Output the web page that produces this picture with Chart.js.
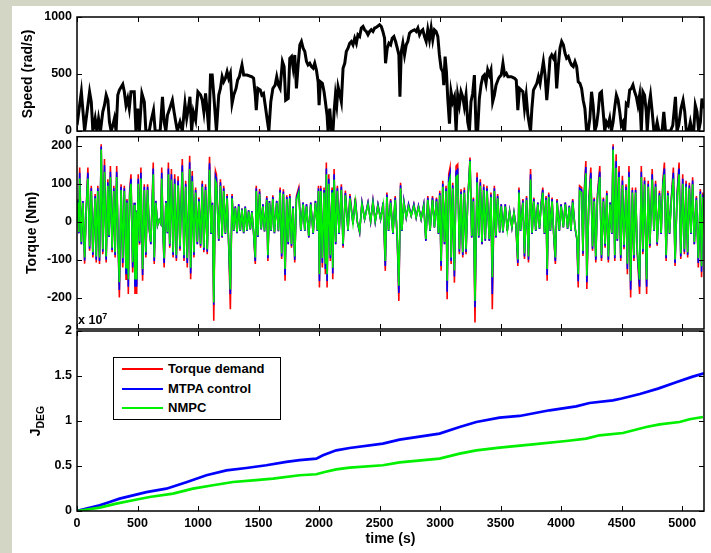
<!DOCTYPE html>
<html>
<head>
<meta charset="utf-8">
<script src="https://cdn.jsdelivr.net/npm/chart.js@4.4.0/dist/chart.umd.min.js"></script>
<style>
body { margin:0; background:#d3d6c5; width:711px; height:553px; overflow:hidden; font-family:'Liberation Sans', Arial, sans-serif; }
#page { position:absolute; left:12px; top:6px; width:699px; height:547px; background:#fff; }
canvas { position:absolute; left:0; }
.lbl { position:absolute; font-weight:bold; color:#000; white-space:nowrap; }
#expo { left:78px; top:311px; font-size:12.5px; }
#expo sup { font-size:9px; vertical-align:5px; }
#jlabel { left:36px; top:421px; font-size:14px; transform:translate(-50%,-50%) rotate(-90deg); }
#jlabel sub { font-size:10.5px; vertical-align:-4px; }
#legend { position:absolute; left:113px; top:357px; width:166px; height:61px; border:1px solid #000; background:#fff; }
#legend .ln { position:absolute; left:8px; width:41px; height:2px; }
#legend .tx { position:absolute; left:54px; font-weight:bold; font-size:13px; line-height:16px; }
</style>
</head>
<body>
<div id="page"></div>
<canvas id="speedChart" width="711" height="150" style="top:0"></canvas>
<canvas id="torqueChart" width="711" height="230" style="top:120px"></canvas>
<canvas id="degChart" width="711" height="253" style="top:300px"></canvas>
<div class="lbl" id="expo">x 10<sup>7</sup></div>
<div class="lbl" id="jlabel">J<sub>DEG</sub></div>
<div id="legend"></div>
<script>
// tick labels
var timeTicks = [0, 500, 1000, 1500, 2000, 2500, 3000, 3500, 4000, 4500, 5000];
var speedTicks = [0, 500, 1000];
var torqueTicks = [-200, -100, 0, 100, 200];
var degTicks = [0, 0.5, 1, 1.5, 2];

// speed (rad/s)
var speedTime = [0,36,63,104,118,131,150,164,178,194,213,227,241,255,268,282,296,309,323,337,350,378,391,405,419,432,446,473,487,501,515,536,556,569,597,610,632,646,687,706,720,734,747,766,788,802,816,829,851,870,892,906,920,933,947,961,980,999,1021,1035,1048,1062,1076,1089,1103,1117,1130,1152,1171,1185,1199,1212,1226,1240,1253,1267,1281,1295,1314,1327,1341,1363,1377,1404,1445,1459,1473,1481,1494,1514,1527,1541,1555,1574,1585,1601,1618,1637,1650,1664,1678,1697,1711,1724,
  1745,1758,1772,1786,1799,1813,1827,1841,1854,1868,1882,1896,1909,1923,1937,1951,1964,1978,1992,2000,2011,2027,2041,2052,2066,2074,2088,2102,2115,2124,2135,2146,2157,2170,2184,2198,2212,2225,2239,2253,2266,2280,2294,2308,2321,2335,2349,2363,2376,2390,2404,2418,2431,2445,2459,2472,2500,2514,2527,2541,2549,2563,2577,2591,2604,2618,2632,2646,2659,2668,2679,2692,2706,2720,2733,2747,2761,2788,2802,2816,2830,2843,2857,2871,2885,2898,2912,2926,2939,2953,2967,2981,2994,3008,3022,3030,3041,3052,3063,3077,3090,3104,3118,3132,3145,3159,3173,3187,3200,3214,3228,3242,3255,3269,3283,3297,3310,3324,3338,3352,3365,3379,3393,3407,3420,3434,3448,3462,3483,
  3492,3505,3519,3533,3547,3560,3588,3615,3629,3642,3656,3670,3684,3697,3711,3725,3738,3747,3758,3771,3785,3799,3812,3826,3840,3853,3867,3881,3895,3908,3922,3936,3949,3963,3977,3990,4004,4018,4032,4045,4059,4073,4086,4100,4114,4128,4141,4155,4169,4182,4196,4210,4223,4237,4251,4264,4278,4292,4306,4319,4333,4347,4360,4374,4388,4401,4415,4429,4443,4456,4470,4484,4497,4511,4525,4538,4552,4566,4580,4593,4607,4621,4634,4648,4662,4675,4689,4703,4711,4725,4738,4752,4766,4779,4793,4807,4834,4848,4862,4903,4922,4944,4957,4971,4990,5007,5021,5034,5053,5067,5081,5095,5108,5122,5136,5150,5163,5172];
var speedValue = [50,344,0,344,256,0,109,0,109,0,168,226,315,270,79,0,50,109,0,315,359,409,344,226,285,197,344,344,0,197,0,329,256,0,0,79,182,0,0,300,79,0,138,197,270,168,79,0,79,0,241,109,197,300,0,168,94,344,315,270,168,329,168,0,491,491,315,0,315,373,476,432,462,520,462,506,241,315,373,447,476,579,491,491,476,462,315,182,373,359,315,329,226,79,0,256,373,403,476,403,373,609,565,270,
  285,638,653,550,667,373,579,756,785,726,697,609,579,594,565,550,594,535,432,226,432,418,344,256,138,0,197,0,0,168,315,226,388,329,256,550,594,697,726,770,785,756,814,770,844,829,903,917,888,873,844,873,888,873,903,908,932,917,873,814,594,726,770,756,814,829,785,726,667,300,697,770,667,756,785,858,873,888,873,903,844,873,888,829,785,888,800,903,800,888,873,829,667,550,520,403,653,520,285,65,344,256,300,0,315,226,344,300,212,315,79,0,256,329,491,0,0,285,403,476,491,418,535,491,535,256,315,403,462,
  476,491,594,491,506,476,476,462,447,182,373,359,344,197,315,138,50,0,197,359,388,418,476,418,520,609,491,270,447,638,667,638,667,373,579,726,785,756,682,638,653,609,579,565,609,565,432,418,373,270,197,0,0,109,344,226,0,50,168,329,344,168,0,79,50,109,0,79,212,315,270,168,50,79,0,241,226,359,373,403,344,300,226,315,0,344,315,168,0,226,315,168,0,0,79,0,0,168,0,0,50,300,0,50,197,270,168,0,0,79,0,0,226,168,0,79,285,197];

// torque (Nm): demand, MTPA control, NMPC
var torqueTime = [0,8,15,22,36,49,63,77,90,104,118,131,150,159,172,186,200,213,227,241,255,265,276,290,304,315,328,339,350,364,378,391,405,413,424,435,446,460,473,479,487,493,506,517,528,542,556,569,583,597,610,630,638,651,665,679,692,
  700,712,720,734,747,755,766,780,794,807,821,835,851,862,870,884,898,911,931,939,952,966,980,994,1007,1021,1035,1048,1062,1076,1095,1108,1119,1130,1144,1152,1171,1185,1199,1212,1226,1240,1253,1267,1281,1295,1308,1322,1336,1349,1363,1377,1390,1404,1418,1432,1445,1459,1473,1481,1494,1508,1522,1536,1549,1568,1577,1590,1604,1618,1631,1650,1664,1678,1691,1705,1719,1733,
  1745,1758,1772,1785,1799,1813,1832,1849,1868,1882,1896,1915,1931,1951,1970,1986,1995,2003,2014,2027,2041,2052,2060,2066,2080,2093,2107,2113,2124,2137,2151,2165,2184,2198,2217,2239,2255,2280,2299,2316,2335,2354,2376,2404,2426,2445,2464,2486,2508,2530,2547,2560,2574,2591,2610,2629,2646,2659,2673,2684,2700,2720,2739,2761,2783,2802,2821,2843,2865,2882,2898,2917,2937,2953,2970,2986,2997,3008,3022,3036,3049,3058,3071,3082,3091,3104,3118,3132,3145,3159,3173,3187,3200,3214,3228,3247,3261,3275,3288,3305,3319,3332,3346,3360,3373,3387,3406,3420,3431,3448,3461,3475,
  3492,3505,3519,3538,3555,3574,3593,3610,3626,3642,3651,3664,3684,3697,3714,3730,3747,3760,3774,3790,3807,3821,3834,3848,3862,3875,3884,3897,3911,3925,3938,3952,3966,3985,3999,4018,4034,4053,4067,4081,4095,4114,4130,4141,4152,4169,4180,4190,4204,4212,4229,4245,4259,4273,4286,4300,4319,4333,4349,4363,4377,4390,4404,4418,4429,4443,4454,4464,4478,4492,4506,4519,4536,4547,4560,4574,4588,4601,4615,4629,4648,4662,4675,4689,4706,4719,4733,4752,4766,4780,4793,4812,4826,4840,4853,4867,4881,4895,4911,4927,4941,4958,4974,4988,5004,5018,5032,5045,5059,5073,5086,5100,5117,5133,5150,5160,5171];
var torqueDemand = [0,60,-30,143,-59,55,-110,40,143,-76,95,-94,73,-107,95,-111,204,-85,165,-107,112,-40,147,-80,95,-94,147,-50,-199,99,-120,95,-151,60,-190,81,125,-133,50,-190,30,-190,125,-60,143,-155,99,-94,99,-20,-59,156,-111,55,-10,5,-5,
  143,-40,-120,55,-30,156,-68,139,-94,125,-103,120,-76,70,165,-103,108,-120,174,-151,134,-94,90,-59,64,-68,108,-80,99,-85,171,-32,50,-260,134,125,-50,112,-41,95,-32,73,-59,-230,73,-24,40,-30,46,-24,35,-30,40,-24,30,-20,28,-30,-111,95,-40,86,-20,46,-25,68,-103,55,-24,70,-30,55,-25,90,-98,86,-155,70,
  -59,73,-68,40,-107,68,90,-24,51,-24,46,-41,51,-32,55,-24,95,-173,95,-120,90,-138,156,-173,125,-103,90,-151,139,-59,95,-32,99,-68,82,-24,73,-6,64,0,-28,51,7,51,0,55,0,46,7,51,-129,77,-24,60,-32,68,-50,-208,103,-24,55,11,46,16,46,11,42,7,46,-50,68,-24,68,-15,64,-32,82,-129,108,-59,95,-204,125,143,-111,103,-160,147,152,-85,86,-94,90,-85,55,169,-41,64,-265,130,-41,112,-59,99,-50,95,-50,77,-230,95,-41,73,
  -28,46,-28,46,-24,29,-15,25,-10,-116,90,-24,60,-98,68,-107,139,-32,64,-24,51,-19,46,90,-32,68,-155,77,-24,64,-32,-111,60,-24,46,-15,51,-19,42,-24,60,-15,-46,-173,95,90,-90,77,160,-177,60,143,-76,64,-107,73,147,-103,64,-68,82,-107,51,-32,204,-103,178,-50,147,-103,121,-72,99,-138,147,-199,90,-103,90,-85,-190,147,-85,117,-190,108,-68,139,-24,108,-63,82,-32,108,156,-103,82,-32,68,143,-116,77,156,-98,125,-85,108,-94,103,-32,117,-59,68,-120,86,-146,77];
var torqueMtpa = [0,56,-30,129,-59,55,-102,40,129,-71,88,-87,68,-100,88,-103,198,-79,149,-100,104,-40,132,-74,88,-87,132,-50,-179,92,-108,88,-136,56,-171,75,113,-120,50,-171,30,-171,113,-56,129,-140,92,-87,92,-20,-59,140,-103,55,-10,5,-5,
  129,-40,-108,55,-30,140,-63,125,-87,113,-96,108,-71,65,149,-96,100,-108,157,-136,121,-87,84,-59,60,-63,100,-74,92,-79,154,-32,50,-218,121,113,-50,104,-41,88,-32,68,-59,-190,68,-24,40,-30,46,-24,35,-30,40,-24,30,-20,28,-30,-103,88,-40,80,-20,46,-25,63,-96,55,-24,65,-30,55,-25,84,-91,80,-140,65,
  -59,68,-63,40,-100,63,84,-24,51,-24,46,-41,51,-32,55,-24,88,-156,88,-108,84,-124,140,-156,113,-96,84,-136,125,-59,88,-32,92,-63,76,-24,68,-6,60,0,-28,51,7,51,0,55,0,46,7,51,-116,72,-24,56,-32,63,-50,-187,96,-24,55,11,46,16,46,11,42,7,46,-50,63,-24,63,-15,60,-32,76,-116,100,-59,88,-184,113,129,-103,96,-144,132,137,-79,80,-87,84,-79,55,163,-41,60,-225,117,-41,104,-59,92,-50,88,-50,72,-190,88,-41,68,
  -28,46,-28,46,-24,29,-15,25,-10,-108,84,-24,56,-91,63,-100,125,-32,60,-24,51,-19,46,84,-32,63,-140,72,-24,60,-32,-103,56,-24,46,-15,51,-19,42,-24,56,-15,-46,-156,88,84,-84,72,144,-159,56,129,-71,60,-100,68,132,-96,60,-63,76,-100,51,-32,198,-96,160,-50,132,-96,109,-67,92,-124,132,-179,84,-96,84,-79,-171,132,-79,109,-171,100,-63,125,-24,100,-59,76,-32,100,140,-96,76,-32,63,129,-108,72,140,-91,113,-79,100,-87,96,-32,109,-59,63,-108,80,-131,72];
var torqueNmpc = [0,51,-27,114,-53,50,-94,36,114,-65,81,-80,62,-91,81,-94,190,-72,132,-91,95,-36,118,-68,81,-80,118,-45,-159,84,-96,81,-121,51,-152,69,100,-106,45,-152,27,-152,100,-51,114,-124,84,-80,84,-18,-53,125,-94,50,-9,5,-5,
  114,-36,-96,50,-27,125,-58,111,-80,100,-88,96,-65,60,132,-88,92,-96,139,-121,107,-80,77,-53,54,-58,92,-68,84,-72,137,-29,45,-212,107,100,-45,95,-37,81,-29,62,-53,-178,62,-22,36,-27,41,-22,32,-27,36,-22,27,-18,25,-27,-94,81,-36,73,-18,41,-23,58,-88,50,-22,60,-27,50,-23,77,-83,73,-124,60,
  -53,62,-58,36,-91,58,77,-22,46,-22,41,-37,46,-29,50,-22,81,-138,81,-96,77,-110,125,-138,100,-88,77,-121,111,-53,81,-29,84,-58,70,-22,62,-5,54,0,-25,46,8,46,2,50,2,41,8,46,-103,65,-22,51,-29,58,-45,-168,88,-22,50,12,41,16,41,12,38,8,41,-45,58,-22,58,-14,54,-29,70,-103,92,-53,81,-155,100,114,-94,88,-128,118,122,-72,73,-80,77,-72,50,160,-37,54,-208,104,-37,95,-53,84,-45,81,-45,65,-146,81,-37,62,
  -25,41,-25,41,-22,26,-14,23,-9,-99,77,-22,51,-83,58,-91,111,-29,54,-22,46,-17,41,77,-29,58,-124,65,-22,54,-29,-94,51,-22,41,-14,46,-17,38,-22,51,-14,-41,-138,81,77,-77,65,128,-142,51,114,-65,54,-91,62,118,-88,54,-58,70,-91,46,-29,190,-88,142,-45,118,-88,97,-61,84,-110,118,-155,77,-88,77,-72,-152,118,-72,99,-152,92,-58,111,-22,92,-54,70,-29,92,125,-88,70,-29,58,114,-99,65,125,-83,100,-72,92,-80,88,-29,99,-53,58,-96,73,-117,65];

// J_DEG (x 10^7)
var degTimeMtpa = [0,187,270,352,463,573,738,903,1069,1234,1399,1564,1729,1839,1977,2032,2142,2252,2527,2665,2995,3161,3299,3491,3656,3904,4124,4234,4427,4500,4650,4800,4950,5080,5180];
var degMtpa = [0,0.063,0.10,0.137,0.174,0.21,0.248,0.32,0.397,0.452,0.478,0.508,0.545,0.566,0.582,0.619,0.674,0.70,0.749,0.793,0.86,0.933,0.989,1.037,1.056,1.119,1.163,1.2,1.23,1.25,1.30,1.36,1.43,1.49,1.53];
var degTimeNmpc = [0,187,325,463,600,793,958,1123,1289,1454,1619,1839,1977,2046,2142,2252,2527,2665,2995,3161,3299,3491,3766,4041,4207,4317,4510,4703,4813,4978,5061,5171];
var degNmpc = [0,0.037,0.082,0.119,0.156,0.193,0.248,0.286,0.322,0.341,0.36,0.397,0.408,0.434,0.463,0.482,0.508,0.541,0.582,0.637,0.674,0.704,0.741,0.778,0.804,0.841,0.867,0.933,0.963,0.989,1.019,1.044];

var RED = 'rgb(255,0,0)', BLUE = 'rgb(0,0,255)', GREEN = 'rgb(0,240,0)';

Chart.defaults.font.family = "'Liberation Sans', Arial, sans-serif";
Chart.defaults.font.size = 12.5;
Chart.defaults.font.weight = 'bold';
Chart.defaults.color = '#000';

function pts(xs, ys) {
  return xs.map(function (x, i) { return {x: x, y: ys[i]}; });
}

// matlab style box with inward ticks on all four sides
var frame = {
  id: 'frame',
  afterDraw: function (chart) {
    var ctx = chart.ctx, a = chart.chartArea, sx = chart.scales.x, sy = chart.scales.y;
    ctx.save();
    ctx.strokeStyle = '#000';
    ctx.lineWidth = 1.5;
    ctx.strokeRect(a.left, a.top, a.right - a.left, a.bottom - a.top);
    ctx.lineWidth = 1;
    ctx.beginPath();
    sx.ticks.forEach(function (t) {
      var px = Math.round(sx.getPixelForValue(t.value)) + 0.5;
      ctx.moveTo(px, a.bottom); ctx.lineTo(px, a.bottom - 5);
      ctx.moveTo(px, a.top); ctx.lineTo(px, a.top + 5);
    });
    sy.ticks.forEach(function (t) {
      var py = Math.round(sy.getPixelForValue(t.value)) + 0.5;
      ctx.moveTo(a.left, py); ctx.lineTo(a.left + 5, py);
      ctx.moveTo(a.right, py); ctx.lineTo(a.right - 5, py);
    });
    ctx.stroke();
    ctx.restore();
  }
};

function makeOptions(o) {
  return {
    responsive: false,
    animation: false,
    events: [],
    layout: {padding: {top: o.padTop, bottom: o.padBottom, left: 0, right: 7}},
    plugins: {legend: {display: false}, tooltip: {enabled: false}},
    elements: {point: {radius: 0}, line: {tension: 0}},
    scales: {
      x: {
        type: 'linear', min: 0, max: 5180,
        grid: {display: false, drawTicks: false},
        border: {display: false},
        afterBuildTicks: function (s) { s.ticks = timeTicks.map(function (v) { return {value: v}; }); },
        ticks: {display: o.showX, padding: 5, autoSkip: false, maxRotation: 0,
          callback: function (v) { return String(v); }},
        title: {display: o.showX, text: 'time (s)', font: {size: 14, weight: 'bold'}, padding: {top: 0, bottom: 5}},
        afterFit: function (s) { s.height = o.showX ? 42 : 0; }
      },
      y: {
        min: o.yMin, max: o.yMax,
        grid: {display: false, drawTicks: false},
        border: {display: false},
        afterBuildTicks: function (s) { s.ticks = o.yTicks.map(function (v) { return {value: v}; }); },
        ticks: {padding: 5, callback: function (v) { return String(v); }},
        title: {display: !!o.yTitle, text: o.yTitle || '', font: {size: 14, weight: 'bold'},
          padding: {top: o.titlePad || 0, bottom: 0}},
        afterFit: function (s) { s.width = 77; }
      }
    }
  };
}

new Chart(document.getElementById('speedChart'), {
  type: 'line',
  data: {datasets: [{label: 'Speed', data: pts(speedTime, speedValue), borderColor: '#000', borderWidth: 3}]},
  options: makeOptions({padTop: 17, padBottom: 19, showX: false, yMin: 0, yMax: 1000, yTicks: speedTicks,
    yTitle: 'Speed (rad/s)', titlePad: 19.6}),
  plugins: [frame]
});

new Chart(document.getElementById('torqueChart'), {
  type: 'line',
  data: {datasets: [
    {label: 'Torque demand', data: pts(torqueTime, torqueDemand), borderColor: RED, borderWidth: 1.6, order: 2},
    {label: 'MTPA control', data: pts(torqueTime, torqueMtpa), borderColor: BLUE, borderWidth: 1.6, order: 1},
    {label: 'NMPC', data: pts(torqueTime, torqueNmpc), borderColor: GREEN, borderWidth: 1.6, order: 0}
  ]},
  options: makeOptions({padTop: 16.7, padBottom: 21, showX: false, yMin: -282, yMax: 224, yTicks: torqueTicks,
    yTitle: 'Torque (Nm)', titlePad: 23.3}),
  plugins: [frame]
});

var degChart = new Chart(document.getElementById('degChart'), {
  type: 'line',
  data: {datasets: [
    {label: 'Torque demand', data: [], borderColor: RED, borderWidth: 2.7, order: 2},
    {label: 'MTPA control', data: pts(degTimeMtpa, degMtpa), borderColor: BLUE, borderWidth: 2.7, order: 1},
    {label: 'NMPC', data: pts(degTimeNmpc, degNmpc), borderColor: GREEN, borderWidth: 2.7, order: 0}
  ]},
  options: makeOptions({padTop: 31, padBottom: 0, showX: true, yMin: 0, yMax: 2, yTicks: degTicks}),
  plugins: [frame]
});

// legend box drawn from the chart's own datasets
var legend = document.getElementById('legend');
degChart.data.datasets.forEach(function (ds, i) {
  var y = 11 + i * 19.5;
  var ln = document.createElement('div');
  ln.className = 'ln';
  ln.style.top = Math.round(y - 1) + 'px';
  ln.style.background = ds.borderColor;
  legend.appendChild(ln);
  var tx = document.createElement('div');
  tx.className = 'tx';
  tx.style.top = Math.round(y - 8) + 'px';
  tx.textContent = ds.label;
  legend.appendChild(tx);
});
</script>
</body>
</html>
